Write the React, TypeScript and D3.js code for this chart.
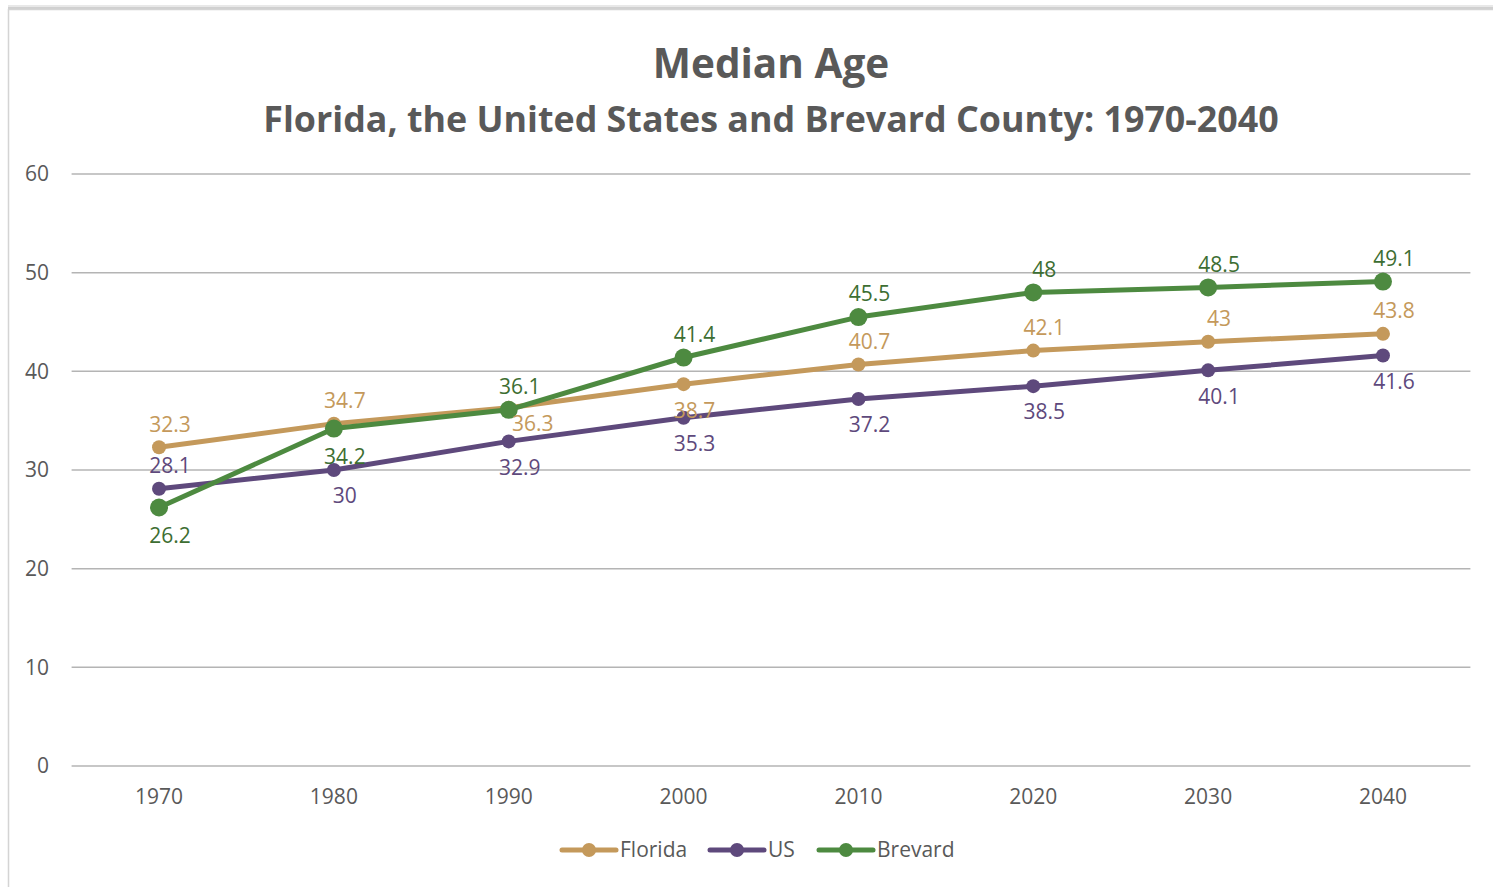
import React from "react";
import * as d3 from "d3";

const years = ["1970", "1980", "1990", "2000", "2010", "2020", "2030", "2040"];
const floridaValues = [32.3, 34.7, 36.3, 38.7, 40.7, 42.1, 43, 43.8];
const usValues = [28.1, 30, 32.9, 35.3, 37.2, 38.5, 40.1, 41.6];
const brevardValues = [26.2, 34.2, 36.1, 41.4, 45.5, 48, 48.5, 49.1];
const yTicks = [0, 10, 20, 30, 40, 50, 60];

// label placement codes: a = above, b = below, r = right-below
const floridaLabelPos = ["a", "a", "r", "b", "a", "a", "a", "a"];
const usLabelPos = ["a", "b", "b", "b", "b", "b", "b", "b"];
const brevardLabelPos = ["b", "b", "a", "a", "a", "a", "a", "a"];

const series = [
  { name: "Florida", values: floridaValues, pos: floridaLabelPos, color: "#C4995B", labelColor: "#C4995B", r: 7 },
  { name: "US", values: usValues, pos: usLabelPos, color: "#5E497C", labelColor: "#5E497C", r: 7 },
  { name: "Brevard", values: brevardValues, pos: brevardLabelPos, color: "#4D8A40", labelColor: "#3D6E32", r: 9 },
];

const W = 1493;
const H = 887;
const FONT = "'Open Sans', sans-serif";
const TEXT = "#595959";

export default function App() {
  const x = d3.scaleBand<string>().domain(years).range([71.6, 1470.4]);
  const y = d3.scaleLinear().domain([0, 60]).range([766, 174]);
  const cx = (i: number) => (x(years[i]) as number) + x.bandwidth() / 2;
  const line = d3
    .line<number>()
    .x((_, i) => cx(i))
    .y((v) => y(v));

  const labelOffset = (code: string, r: number) => {
    if (code === "a") return { dx: 11, dy: -23 };
    if (code === "r") return { dx: 24, dy: 16 };
    return { dx: 11, dy: r > 8 ? 28 : 26 };
  };

  const legendItems = [
    { s: series[0], x0: 562 },
    { s: series[1], x0: 710 },
    { s: series[2], x0: 819 },
  ];

  return (
    <svg
      width={W}
      height={H}
      style={{ position: "absolute", left: 0, top: 0, background: "#fff" }}
      fontFamily={FONT}
    >
      <rect x={0} y={0} width={W} height={H} fill="#fff" />
      {/* frame with soft top shadow */}
      <line x1={8} x2={W} y1={6} y2={6} stroke="#e8e8e8" strokeWidth={2} />
      <line x1={8} x2={W} y1={8} y2={8} stroke="#d0d0d0" strokeWidth={2} />
      <rect x={8.5} y={9.5} width={W + 20} height={H + 20} fill="none" stroke="#d4d4d4" strokeWidth={1.5} />

      {/* titles */}
      <text x={771} y={78} textAnchor="middle" fill={TEXT} fontWeight={700} fontSize={40.5}>
        Median Age
      </text>
      <text x={771} y={132} textAnchor="middle" fill={TEXT} fontWeight={700} fontSize={35.8}>
        Florida, the United States and Brevard County: 1970-2040
      </text>

      {/* gridlines + y ticks */}
      {yTicks.map((t) => (
        <g key={t}>
          <line x1={71.6} x2={1470.4} y1={y(t)} y2={y(t)} stroke="#b4b4b4" strokeWidth={1.5} />
          <text x={49} y={y(t)} dy="0.35em" textAnchor="end" fill={TEXT} fontSize={21}>
            {t}
          </text>
        </g>
      ))}

      {/* x labels */}
      {years.map((yr, i) => (
        <text key={yr} x={cx(i)} y={797} dy="0.35em" textAnchor="middle" fill={TEXT} fontSize={21}>
          {yr}
        </text>
      ))}

      {/* series */}
      {series.map((s) => (
        <g key={s.name}>
          <path d={line(s.values) || ""} fill="none" stroke={s.color} strokeWidth={5} strokeLinejoin="round" strokeLinecap="round" />
          {s.values.map((v, i) => (
            <circle key={i} cx={cx(i)} cy={y(v)} r={s.r} fill={s.color} />
          ))}
        </g>
      ))}

      {/* data labels */}
      {series.map((s) => (
        <g key={s.name + "-labels"}>
          {s.values.map((v, i) => {
            const o = labelOffset(s.pos[i], s.r);
            return (
              <text
                key={i}
                x={cx(i) + o.dx}
                y={y(v) + o.dy}
                dy="0.35em"
                textAnchor="middle"
                fill={s.labelColor}
                fontSize={21}
              >
                {String(v)}
              </text>
            );
          })}
        </g>
      ))}

      {/* legend */}
      {legendItems.map(({ s, x0 }) => (
        <g key={s.name + "-legend"}>
          <line x1={x0} x2={x0 + 54} y1={850} y2={850} stroke={s.color} strokeWidth={5} strokeLinecap="round" />
          <circle cx={x0 + 27} cy={850} r={7} fill={s.color} />
          <text x={x0 + 58} y={850} dy="0.35em" fill={TEXT} fontSize={21}>
            {s.name}
          </text>
        </g>
      ))}
    </svg>
  );
}
